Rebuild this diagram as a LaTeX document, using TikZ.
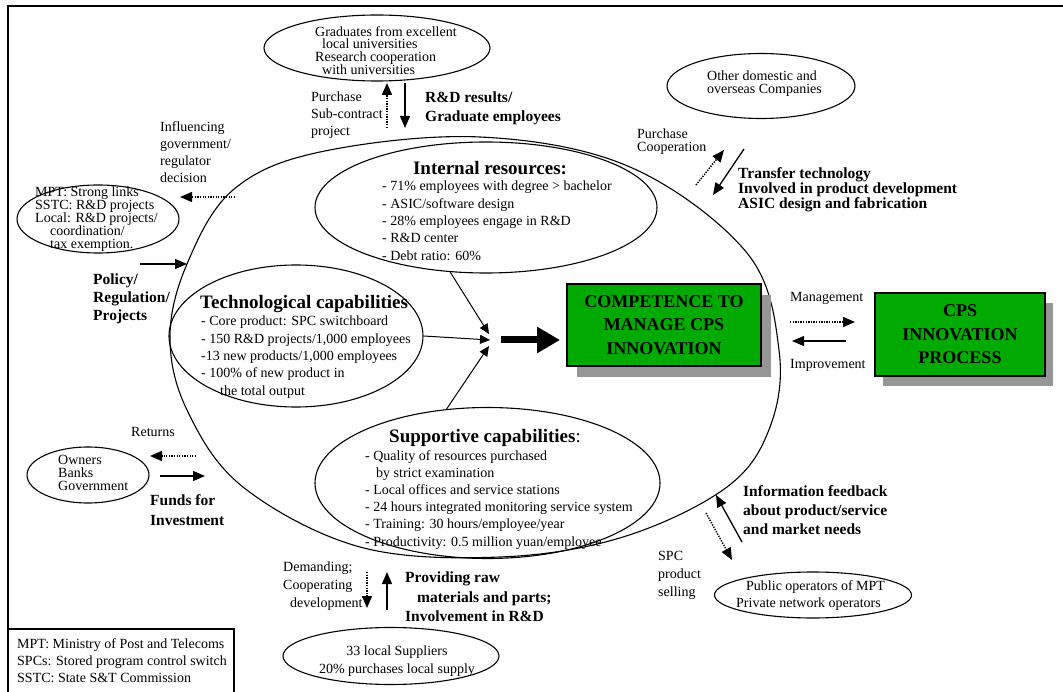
\documentclass[tikz,border=0pt]{standalone}
\usepackage{fontspec}
\setmainfont{Liberation Serif}
\usetikzlibrary{shapes.geometric,arrows.meta}
\definecolor{boxgreen}{RGB}{0,170,0}
\definecolor{shadowgray}{RGB}{150,150,150}
\begin{document}
\begin{tikzpicture}[x=1pt,y=-1pt,
  ell/.style={draw, ellipse, line width=1.1pt, inner sep=0pt},
  t/.style={inner sep=0pt, anchor=north west, align=left, font=\fontsize{14}{17}\selectfont},
  tb/.style={t, font=\bfseries\fontsize{15.5}{19}\selectfont},
  arr/.style={line width=1.3pt, -{Triangle[length=12pt,width=10pt]}},
  darr/.style={line width=1.5pt, dash pattern=on 1.3pt off 1.3pt, -{Triangle[length=12pt,width=10pt]}},
  marr/.style={line width=1pt, -{Triangle[length=10pt,width=9pt]}},
  gbox/.style={draw, fill=boxgreen, line width=1.3pt, align=center, inner sep=0pt,
    font=\bfseries\fontsize{18}{23.5}\selectfont},
]
\useasboundingbox (0,0) rectangle (1063,692);
% frame
\draw[line width=1.3pt] (8,692) -- (8,6) -- (1063,6);
% legend box
\draw[line width=1.1pt] (8,629) -- (234,629) -- (234,692);
\node[t, font=\fontsize{14}{17}\selectfont] (legend) at (17,638) {MPT: Ministry of Post and Telecoms\\SPCs: Stored program control switch\\SSTC: State S\&T Commission};

% big organisation outline
\draw[line width=1.1pt] plot[smooth cycle, tension=0.6] coordinates {
  (480,137) (630,167) (747,253) (779,350) (770,427) (727,487) (623,537)
  (500,557) (360,547) (243,487) (187,410) (170,337) (187,264) (233,190) (320,152)};

% inner ellipses
\node[ell, minimum width=342pt, minimum height=131pt] (intl) at (486,207.5) {};
\node[ell, minimum width=254pt, minimum height=142pt] (tech) at (296,336) {};
\node[ell, minimum width=345pt, minimum height=151pt] (supp) at (487.5,483) {};

\node[anchor=north, inner sep=0pt, font=\bfseries\fontsize{19}{22}\selectfont] (intltitle) at (490,161) {Internal resources:};
\node[t, font=\fontsize{14}{17.3}\selectfont] (intltxt) at (382,181) {- 71\% employees with degree > bachelor\\- ASIC/software design\\- 28\% employees engage in R\&D\\- R\&D center\\- Debt ratio: 60\%};

\node[t, font=\bfseries\fontsize{19}{22}\selectfont] (techtitle) at (200,295) {Technological capabilities};
\node[t, font=\fontsize{14}{17.3}\selectfont] (techtxt) at (201,316) {- Core product: SPC switchboard\\- 150 R\&D projects/1,000 employees\\-13 new products/1,000 employees\\- 100\% of new product in\\\hspace*{19pt}the total output};

\node[t, font=\fontsize{19}{22}\selectfont] (supptitle) at (389,429) {\textbf{Supportive capabilities}:};
\node[t, font=\fontsize{14}{17.2}\selectfont] (supptxt) at (365,450) {- Quality of resources purchased\\\hspace*{11pt}by strict examination\\- Local offices and service stations\\- 24 hours integrated monitoring service system\\- Training: 30 hours/employee/year\\- Productivity: 0.5 million yuan/employee};

% merging arrows
\coordinate (m1) at (489,334);
\coordinate (m2) at (490,340);
\coordinate (m3) at (489,346);
\draw[marr] (intl.241) -- (m1);
\draw[marr] (tech.east) -- (m2);
\draw[marr] (supp.119) -- (m3);
\coordinate (bigs) at (501,340);
\coordinate (bige) at (560,340);
% green boxes
\fill[shadowgray] (577,295) rectangle (771,377);
\node[gbox, minimum width=194pt, minimum height=82pt] (comp) at (664,325) {COMPETENCE TO\\MANAGE CPS\\INNOVATION};
\draw[line width=7pt, -{Triangle[length=23pt,width=25pt]}] (bigs) -- (bige);

\fill[shadowgray] (883,303) rectangle (1053,386);
\node[gbox, minimum width=170pt, minimum height=83pt] (cps) at (960,334.5) {CPS\\INNOVATION\\PROCESS};

\node[t] (mgmt) at (790,292) {Management};
\node[t] (impr) at (790,359) {Improvement};
\coordinate (ma) at (790,322);
\coordinate (mb) at (855,322);
\coordinate (ia) at (846,341);
\coordinate (ib) at (792,341);
\draw[darr] (ma) -- (mb);
\draw[arr] (ia) -- (ib);

% top: universities
\node[ell, minimum width=226pt, minimum height=66pt] (grad) at (377,48) {};
\node[t, font=\fontsize{14}{12.7}\selectfont] (gradtxt) at (315,26) {Graduates from excellent\\\hspace*{7pt}local universities\\Research cooperation\\\hspace*{7pt}with universities};
\coordinate (gu1) at (387,128);
\coordinate (gu2) at (387,83);
\coordinate (gd1) at (405,83);
\coordinate (gd2) at (405,128);
\draw[darr] (gu1) -- (gu2);
\draw[arr] (gd1) -- (gd2);
\node[t] (purch1) at (311,92) {Purchase\\Sub-contract\\project};
\node[tb] (rdres) at (425,92) {R\&D results/\\Graduate employees};

% left: government
\node[ell, minimum width=162pt, minimum height=68pt] (gov) at (98,219) {};
\node[t, font=\fontsize{14}{12.8}\selectfont] (govtxt) at (35,187) {MPT: Strong links\\SSTC: R\&D projects\\Local: R\&D projects/\\\hspace*{15pt}coordination/\\\hspace*{15pt}tax exemption.};
\node[t] (infl) at (160,121) {Influencing\\government/\\regulator\\decision};
\coordinate (if1) at (235,197);
\coordinate (if2) at (180,197);
\draw[darr] (if1) -- (if2);
\coordinate (po1) at (140,264);
\coordinate (po2) at (187,264);
\draw[arr] (po1) -- (po2);
\node[tb, font=\bfseries\fontsize{15.5}{18}\selectfont] (policy) at (93,274) {Policy/\\Regulation/\\Projects};

% left: owners
\node[ell, minimum width=122pt, minimum height=56pt] (own) at (88,475) {};
\node[t, font=\fontsize{14}{13}\selectfont] (owntxt) at (58,455) {Owners\\Banks\\Government};
\node[t] (ret) at (131,427) {Returns};
\coordinate (r1) at (196,456);
\coordinate (r2) at (150,456);
\draw[darr] (r1) -- (r2);
\coordinate (f1) at (160,476);
\coordinate (f2) at (205,476);
\draw[arr] (f1) -- (f2);
\node[tb, font=\bfseries\fontsize{15.5}{20}\selectfont] (funds) at (150,494) {Funds for\\Investment};

% bottom: suppliers
\node[ell, minimum width=216pt, minimum height=57pt] (sup) at (391,656) {};
\node[anchor=north, inner sep=0pt, align=center, font=\fontsize{14}{18}\selectfont] (suptxt) at (397,646) {33 local Suppliers\\20\% purchases local supply};
\node[t, font=\fontsize{14}{18}\selectfont] (dem) at (283,562) {Demanding;\\Cooperating\\\hspace*{7pt}development};
\coordinate (d1) at (367,572);
\coordinate (d2) at (367,608);
\coordinate (p1) at (387,610);
\coordinate (p2) at (387,572);
\draw[darr] (d1) -- (d2);
\draw[arr] (p1) -- (p2);
\node[tb, font=\bfseries\fontsize{15.5}{19.5}\selectfont] (prov) at (405,572) {Providing raw\\\hspace*{12pt}materials and parts;\\Involvement in R\&D};

% top right: other companies
\node[ell, minimum width=188pt, minimum height=65pt] (oth) at (761,86) {};
\node[t, font=\fontsize{14}{13}\selectfont] (othtxt) at (707,71) {Other domestic and\\overseas Companies};
\node[t, font=\fontsize{14}{13}\selectfont] (pc) at (637,129) {Purchase\\Cooperation};
\coordinate (pc1) at (696,185);
\coordinate (pc2) at (724,150);
\coordinate (tt1) at (744,149);
\coordinate (tt2) at (713,195);
\draw[darr] (pc1) -- (pc2);
\draw[arr] (tt1) -- (tt2);
\node[tb, font=\bfseries\fontsize{15.5}{14}\selectfont] (trans) at (738,167) {Transfer technology\\Involved in product development\\ASIC design and fabrication};

% bottom right: operators
\node[ell, minimum width=197pt, minimum height=46pt] (pub) at (813,595) {};
\node[t, font=\fontsize{14}{17}\selectfont] (pubtxt) at (736,580) {\hspace*{10pt}Public operators of MPT\\Private network operators};
\node[t, font=\fontsize{14}{18}\selectfont] (spc) at (658,551) {SPC\\product\\selling};
\coordinate (fb1) at (742,542);
\coordinate (fb2) at (716,495);
\coordinate (se1) at (706,513);
\coordinate (se2) at (732,560);
\draw[arr] (fb1) -- (fb2);
\draw[darr] (se1) -- (se2);
\node[tb, font=\bfseries\fontsize{15.5}{19}\selectfont] (info) at (743,485) {Information feedback\\about product/service\\and market needs};
\end{tikzpicture}
\end{document}
